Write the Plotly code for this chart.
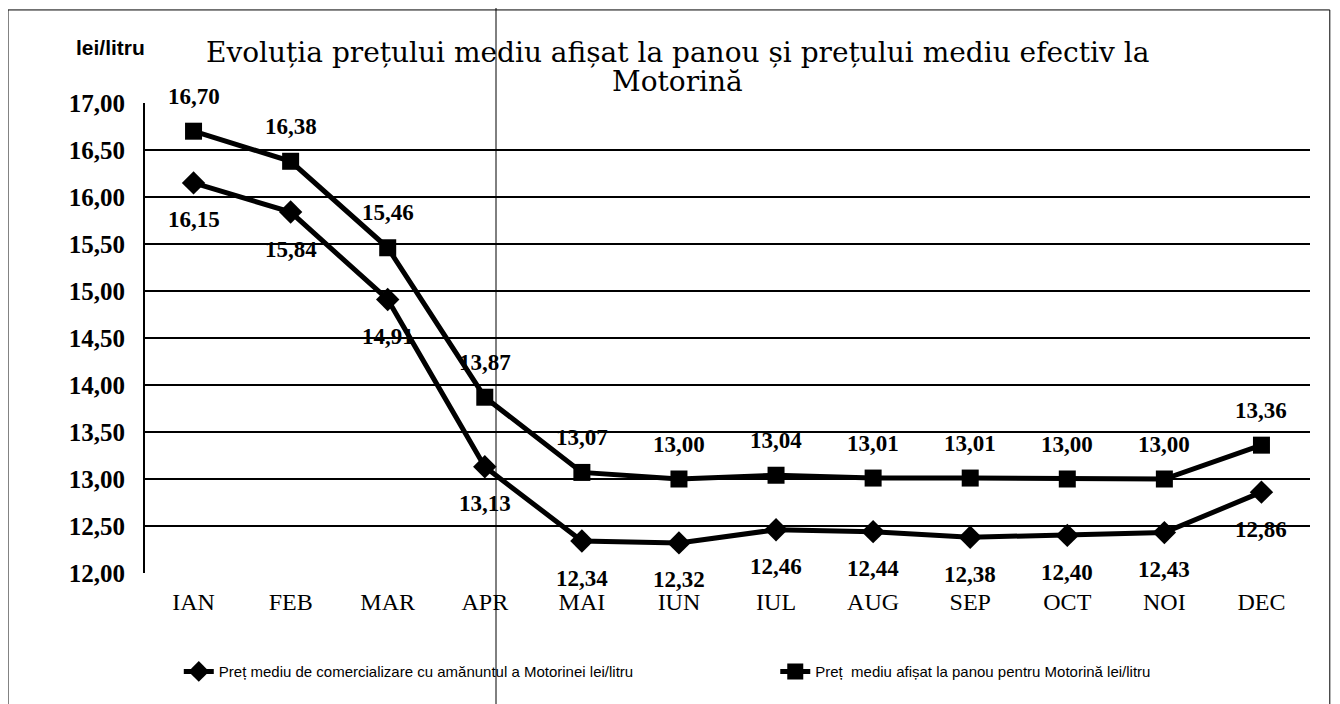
import plotly.graph_objects as go

# lunile si preturile (lei/litru)
luni = ['IAN', 'FEB', 'MAR', 'APR', 'MAI', 'IUN', 'IUL', 'AUG', 'SEP', 'OCT', 'NOI', 'DEC']
pret_efectiv = [16.15, 15.84, 14.91, 13.13, 12.34, 12.32, 12.46, 12.44, 12.38, 12.40, 12.43, 12.86]
pret_panou = [16.70, 16.38, 15.46, 13.87, 13.07, 13.00, 13.04, 13.01, 13.01, 13.00, 13.00, 13.36]

nume_efectiv = 'Preț mediu de comercializare cu amănuntul a Motorinei lei/litru'
nume_panou = 'Preț  mediu afișat la panou pentru Motorină lei/litru'
titlu_1 = 'Evoluția prețului mediu afișat la panou și prețului mediu efectiv la'
titlu_2 = 'Motorină'

serif = 'Liberation Serif, Times New Roman, serif'
font_eticheta = dict(family=serif, size=23, color='black', weight='bold')
font_legenda = dict(family='Liberation Sans, Arial, sans-serif', size=15, color='black')

trace_efectiv = go.Scatter(
    name=nume_efectiv,
    x=luni,
    y=pret_efectiv,
    mode='lines+markers',
    line=dict(color='black', width=5),
    marker=dict(symbol='diamond', size=18, color='black'),
    legend='legend',
)

trace_panou = go.Scatter(
    name=nume_panou,
    x=luni,
    y=pret_panou,
    mode='lines+markers',
    line=dict(color='black', width=5),
    marker=dict(symbol='square', size=17, color='black'),
    legend='legend2',
)

# etichetele valorilor (sub romburi, deasupra patratelor)
etichete = []
for luna, v in zip(luni, pret_efectiv):
    etichete.append(dict(x=luna, y=v, text=f'{v:.2f}'.replace('.', ','),
                         showarrow=False, yshift=-37, font=font_eticheta))
for luna, v in zip(luni, pret_panou):
    etichete.append(dict(x=luna, y=v, text=f'{v:.2f}'.replace('.', ','),
                         showarrow=False, yshift=35, font=font_eticheta))

titlu_font = dict(family='DejaVu Serif, serif', size=28, color='black')

layout = go.Layout(
    width=1340,
    height=704,
    separators=',.',
    paper_bgcolor='white',
    plot_bgcolor='white',
    margin=dict(l=137, r=38, t=95, b=139),
    xaxis=dict(
        type='category',
        range=[-0.5, 11.5],
        showgrid=False,
        showline=False,
        zeroline=False,
        tickfont=dict(family=serif, size=24, color='black'),
        ticklabelstandoff=12,
    ),
    yaxis=dict(
        range=[12, 17],
        dtick=0.5,
        tickformat='.2f',
        showgrid=True,
        gridcolor='black',
        gridwidth=2,
        showline=True,
        linecolor='black',
        linewidth=2,
        zeroline=False,
        tickfont=dict(family=serif, size=25, color='black', weight='bold'),
        ticklabelstandoff=13,
    ),
    showlegend=True,
    legend=dict(
        orientation='h',
        x=0.029,
        xanchor='left',
        y=-0.21,
        yanchor='middle',
        font=font_legenda,
        bgcolor='rgba(0,0,0,0)',
    ),
    legend2=dict(
        orientation='h',
        x=0.541,
        xanchor='left',
        y=-0.21,
        yanchor='middle',
        font=font_legenda,
        bgcolor='rgba(0,0,0,0)',
    ),
    annotations=etichete + [
        dict(text=titlu_1, xref='paper', yref='paper', x=0.4575, y=1.1085,
             xanchor='center', yanchor='middle', showarrow=False, font=titlu_font),
        dict(text=titlu_2, xref='paper', yref='paper', x=0.4575, y=1.045,
             xanchor='center', yanchor='middle', showarrow=False, font=titlu_font),
        dict(
            text='<b>lei/litru</b>',
            xref='paper', yref='paper',
            x=-0.030, y=1.119,
            xanchor='center', yanchor='middle',
            showarrow=False,
            font=dict(family='Liberation Sans Narrow, Arial Narrow, Liberation Sans, sans-serif',
                      size=21, color='black'),
        ),
    ],
    shapes=[
        # chenarul exterior
        dict(type='rect', xref='paper', yref='paper',
             x0=-0.1176, x1=1.017, y0=-0.30, y1=1.198,
             line=dict(color='black', width=1)),
        # linia verticala din scanare
        dict(type='line', xref='paper', yref='paper',
             x0=0.3013, x1=0.3013, y0=-0.31, y1=1.21,
             line=dict(color='black', width=1)),
    ],
)

fig = go.Figure(data=[trace_efectiv, trace_panou], layout=layout)
fig.write_html('out.html')
